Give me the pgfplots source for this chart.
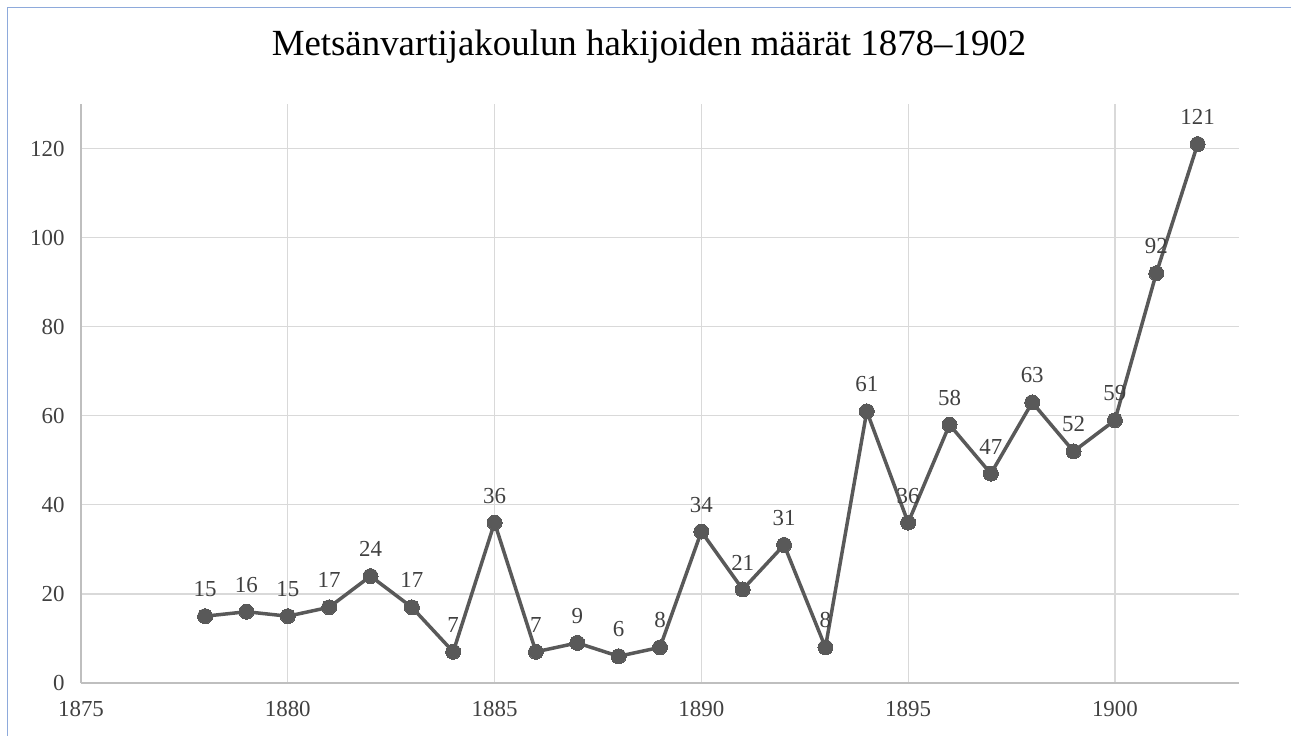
\documentclass[border=0pt]{standalone}
\usepackage{pgfplots}
\pgfplotsset{compat=1.18}
\usepackage{fontspec}
\setmainfont{Liberation Serif}
\definecolor{lineC}{HTML}{595959}
\definecolor{lblC}{HTML}{404040}
\definecolor{gridC}{HTML}{D9D9D9}
\definecolor{axC}{HTML}{BFBFBF}
\definecolor{frameC}{HTML}{8EAADB}
\begin{document}
\begin{tikzpicture}[x=1bp,y=1bp]
\path[use as bounding box] (0,0) rectangle (1291,736);
\draw[frameC, line width=1.5bp] (7.5,0) -- (7.5,728.5) -- (1291,728.5);
\node[font=\fontsize{37}{42}\selectfont, text=black] at (649,689) {Metsänvartijakoulun hakijoiden määrät 1878–1902};
\begin{axis}[
  at={(81bp,53bp)}, anchor=origin,
  scale only axis, width=1158bp, height=579bp,
  xmin=1875, xmax=1903, ymin=0, ymax=130,
  xtick={1875,1880,...,1900}, ytick={0,20,...,120},
  xticklabel style={/pgf/number format/1000 sep=},
  /pgf/number format/assume math mode=true,
  tick style={draw=none},
  major tick length=0pt,
  xmajorgrids, ymajorgrids,
  grid style={gridC, line width=1.2bp},
  axis x line*=bottom, axis y line*=left,
  x axis line style={axC, line width=1.2bp, -},
  y axis line style={axC, line width=1.2bp, -},
  ticklabel style={font=\fontsize{23}{26}\selectfont, text=lblC},
  xticklabel style={yshift=-15bp},
  yticklabel style={xshift=-13bp},
  clip=false,
]
\addplot[color=lineC, line width=3.5bp, mark=*, mark size=7.5bp,
  mark options={fill=lineC, draw=lineC, line width=0bp},
  nodes near coords,
  every node near coord/.append style={font=\fontsize{23}{26}\selectfont, text=lblC, anchor=south, yshift=16bp},
] coordinates {
(1878,15) (1879,16) (1880,15) (1881,17) (1882,24) (1883,17) (1884,7)
(1885,36) (1886,7) (1887,9) (1888,6) (1889,8) (1890,34) (1891,21)
(1892,31) (1893,8) (1894,61) (1895,36) (1896,58) (1897,47) (1898,63)
(1899,52) (1900,59) (1901,92) (1902,121)
};
\end{axis}
\end{tikzpicture}
\end{document}
